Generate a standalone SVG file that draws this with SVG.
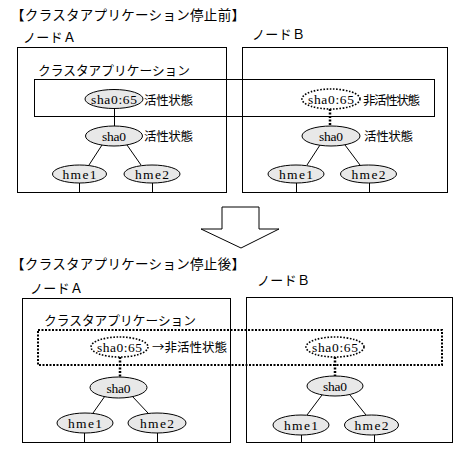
<svg xmlns="http://www.w3.org/2000/svg" width="460" height="456" viewBox="0 0 460 456">
<style>
.jp{font-family:"Noto Sans CJK JP","Noto Sans",sans-serif;fill:#000}
.lb{font-family:"Liberation Serif","DejaVu Serif",serif;font-size:13.5px;fill:#000;text-anchor:middle}
.box{fill:none;stroke:#000;stroke-width:1}
.el{fill:#e8e8e8;stroke:#000;stroke-width:1}
.dot{fill:#fff;stroke:#000;stroke-width:1.6;stroke-dasharray:1.6 1.6}
.drect{fill:none;stroke:#000;stroke-width:2;stroke-dasharray:2 1.5}
.ln{stroke:#000;stroke-width:1;fill:none}
.dln{stroke:#000;stroke-width:2.5;stroke-dasharray:2 1.5;fill:none}
</style>
<rect width="460" height="456" fill="#fff"/>

<!-- Titles -->
<text class="jp" x="11" y="20" font-size="13.5" textLength="234">【クラスタアプリケーション停止前】</text>
<text class="jp" x="11" y="268.5" font-size="13.5" textLength="234">【クラスタアプリケーション停止後】</text>

<!-- Big arrow -->
<g id="arrow">
<polygon points="222,207 259,207 259,229 279,229 241,248 201,229 222,229" fill="#fff" stroke="#000" stroke-width="1"/>
</g>

<!-- ===== TOP: before ===== -->
<g id="topNodeA">
<text class="jp" x="23" y="42" font-size="13" textLength="53">ノードＡ</text>
<rect class="box" x="17.5" y="47.5" width="209" height="145"/>
</g>
<g id="topNodeB">
<text class="jp" x="252" y="39" font-size="13" textLength="53">ノードＢ</text>
<rect class="box" x="242.5" y="47.5" width="205" height="145"/>
</g>
<g id="topCluster">
<text class="jp" x="38" y="75" font-size="12.7" textLength="152">クラスタアプリケーション</text>
<rect class="box" x="34.5" y="79.5" width="400" height="37"/>
</g>

<g id="connectors">
<!-- top A -->
<line class="ln" x1="114.5" y1="108" x2="114.5" y2="126"/>
<line class="ln" x1="102" y1="145" x2="89" y2="165"/>
<line class="ln" x1="127" y1="145" x2="141" y2="165"/>
<line class="ln" x1="79.5" y1="183" x2="79.5" y2="192"/>
<line class="ln" x1="152.5" y1="183" x2="152.5" y2="192"/>
<!-- top B -->
<line class="dln" x1="330" y1="109" x2="330" y2="126"/>
<line class="ln" x1="320" y1="145" x2="307" y2="165"/>
<line class="ln" x1="345" y1="145" x2="360" y2="165"/>
<line class="ln" x1="296.5" y1="183" x2="296.5" y2="192"/>
<line class="ln" x1="369.5" y1="183" x2="369.5" y2="192"/>
<!-- bottom A -->
<line class="dln" x1="120" y1="357" x2="120" y2="377"/>
<line class="ln" x1="105" y1="396" x2="93" y2="413"/>
<line class="ln" x1="132" y1="396" x2="148" y2="413"/>
<line class="ln" x1="84.5" y1="433" x2="84.5" y2="442"/>
<line class="ln" x1="157.5" y1="433" x2="157.5" y2="442"/>
<!-- bottom B -->
<line class="dln" x1="335" y1="357" x2="335" y2="376"/>
<line class="ln" x1="322" y1="395" x2="307" y2="415"/>
<line class="ln" x1="350" y1="395" x2="366" y2="415"/>
<line class="ln" x1="301.5" y1="435" x2="301.5" y2="442"/>
<line class="ln" x1="374.5" y1="435" x2="374.5" y2="442"/>
</g>

<g id="topA_sha065">
<ellipse class="el" cx="114" cy="99" rx="29" ry="9.5"/>
<text class="lb" x="114" y="104" textLength="46">sha0:65</text>
<text class="jp" x="144" y="104.5" font-size="12.5" textLength="49">活性状態</text>
</g>
<g id="topA_sha0">
<ellipse class="el" cx="114" cy="136" rx="28.5" ry="10"/>
<text class="lb" x="114" y="141" textLength="24">sha0</text>
<text class="jp" x="144" y="140.5" font-size="12.5" textLength="49">活性状態</text>
</g>
<g id="topA_hme1">
<ellipse class="el" cx="79.5" cy="174" rx="27" ry="9"/>
<text class="lb" x="79.5" y="179" textLength="34">hme1</text>
</g>
<g id="topA_hme2">
<ellipse class="el" cx="152" cy="174" rx="28" ry="9"/>
<text class="lb" x="152" y="179" textLength="34">hme2</text>
</g>

<g id="topB_sha065">
<ellipse class="dot" cx="331" cy="99" rx="29" ry="10"/>
<text class="lb" x="331" y="104" textLength="46">sha0:65</text>
<text class="jp" x="363" y="104.5" font-size="12.5" textLength="57">非活性状態</text>
</g>
<g id="topB_sha0">
<ellipse class="el" cx="331" cy="136" rx="29" ry="10"/>
<text class="lb" x="331" y="141" textLength="24">sha0</text>
<text class="jp" x="364" y="140.5" font-size="12.5" textLength="49">活性状態</text>
</g>
<g id="topB_hme1">
<ellipse class="el" cx="296" cy="174" rx="28" ry="9"/>
<text class="lb" x="296" y="179" textLength="34">hme1</text>
</g>
<g id="topB_hme2">
<ellipse class="el" cx="368.5" cy="174" rx="28" ry="9"/>
<text class="lb" x="368.5" y="179" textLength="34">hme2</text>
</g>

<!-- ===== BOTTOM: after ===== -->
<g id="botNodeA">
<text class="jp" x="30" y="293" font-size="13" textLength="53">ノードＡ</text>
<rect class="box" x="22.5" y="298.5" width="208" height="144"/>
</g>
<g id="botNodeB">
<text class="jp" x="257" y="285" font-size="13" textLength="53">ノードＢ</text>
<rect class="box" x="246.5" y="297.5" width="206" height="145"/>
</g>
<g id="botCluster">
<text class="jp" x="44" y="325" font-size="12.7" textLength="152">クラスタアプリケーション</text>
<rect class="drect" x="38" y="330" width="404" height="35"/>
</g>

<g id="botA_sha065">
<ellipse class="dot" cx="119.5" cy="347" rx="28.5" ry="10"/>
<text class="lb" x="119.5" y="352" textLength="45">sha0:65</text>
<text class="jp" x="152" y="351.5" font-size="12.5" textLength="75">→非活性状態</text>
</g>
<g id="botA_sha0">
<ellipse class="el" cx="118.5" cy="387.5" rx="28.5" ry="10.5"/>
<text class="lb" x="118.5" y="392.5" textLength="24">sha0</text>
</g>
<g id="botA_hme1">
<ellipse class="el" cx="85" cy="423" rx="28" ry="10"/>
<text class="lb" x="85" y="428" textLength="34">hme1</text>
</g>
<g id="botA_hme2">
<ellipse class="el" cx="157" cy="423" rx="29" ry="10"/>
<text class="lb" x="157" y="428" textLength="34">hme2</text>
</g>

<g id="botB_sha065">
<ellipse class="dot" cx="335" cy="347" rx="29" ry="10"/>
<text class="lb" x="335" y="352" textLength="46">sha0:65</text>
</g>
<g id="botB_sha0">
<ellipse class="el" cx="335" cy="386" rx="28" ry="10"/>
<text class="lb" x="335" y="391" textLength="24">sha0</text>
</g>
<g id="botB_hme1">
<ellipse class="el" cx="301" cy="425" rx="28" ry="10"/>
<text class="lb" x="301" y="430" textLength="34">hme1</text>
</g>
<g id="botB_hme2">
<ellipse class="el" cx="371.5" cy="425" rx="27" ry="10"/>
<text class="lb" x="371.5" y="430" textLength="34">hme2</text>
</g>
</svg>
